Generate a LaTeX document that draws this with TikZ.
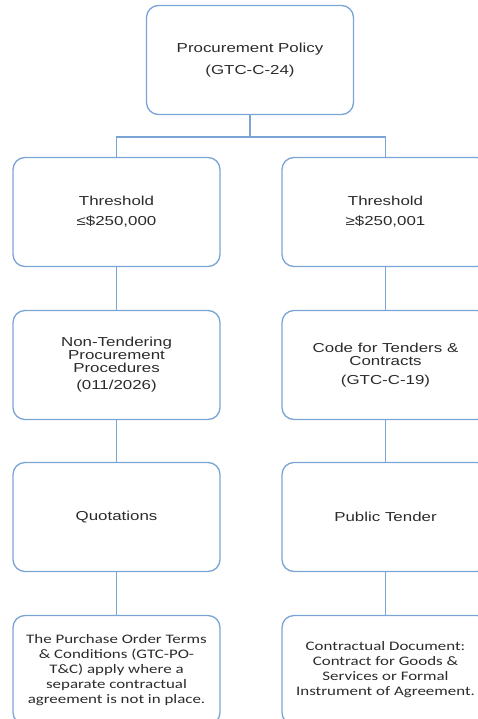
\documentclass[tikz,border=0pt]{standalone}
\usepackage{fontspec}
\usetikzlibrary{calc}
\newfontfamily\arialx[FakeStretch=1.3]{Liberation Sans}
\newfontfamily\calx[FakeStretch=1.3]{Carlito}
\definecolor{edge}{HTML}{7BA4D6}
\definecolor{txt}{HTML}{2B2B2B}
\begin{document}
\begin{tikzpicture}[x=1pt,y=-1pt,
  box/.style={draw=edge, line width=1.3pt, rounded corners=12pt, minimum width=207pt, minimum height=109pt, inner sep=0pt, text=txt, align=center},
  atext/.style={font=\arialx\fontsize{13}{13}\selectfont},
  ctext/.style={font=\calx\fontsize{13}{15}\selectfont},
  link/.style={draw=edge, line width=1.3pt}]
\useasboundingbox (0,0) rectangle (478,719);
\clip (0,0) rectangle (478,719);
\node[box, atext] (top) at (250,60) {Procurement Policy\\[8.7pt](GTC-C-24)};
\node[box, atext] (l1) at (116.5,212) {Threshold\\[7pt]≤\$250,000};
\node[box, atext] (r1) at (385.5,212) {Threshold\\[7pt]≥\$250,001};
\node[box, atext] (l2) at (116.5,365) {Non-Tendering\\Procurement\\Procedures\\[4pt](011/2026)};
\node[box, atext] (r2) at (385.5,365) {Code for Tenders \&\\Contracts\\[6pt](GTC-C-19)};
\node[box, atext] (l3) at (116.5,517) {Quotations};
\node[box, atext] (r3) at (385.5,517) {Public Tender};
\node[box, ctext] (l4) at (116.5,670) {The Purchase Order Terms\\\& Conditions (GTC-PO-\\T\&C) apply where a\\separate contractual\\agreement is not in place.};
\node[box, ctext] (r4) at (385.5,670) {Contractual Document:\\Contract for Goods \&\\Services or Formal\\Instrument of Agreement.};
\coordinate (fork) at ($(top.south)+(0,22)$);
\draw[link] (top.south) -- (fork) -| (l1.north);
\draw[link] (fork) -| (r1.north);
\draw[link] (l1.south) -- (l2.north);
\draw[link] (r1.south) -- (r2.north);
\draw[link] (l2.south) -- (l3.north);
\draw[link] (r2.south) -- (r3.north);
\draw[link] (l3.south) -- (l4.north);
\draw[link] (r3.south) -- (r4.north);
\end{tikzpicture}
\end{document}
